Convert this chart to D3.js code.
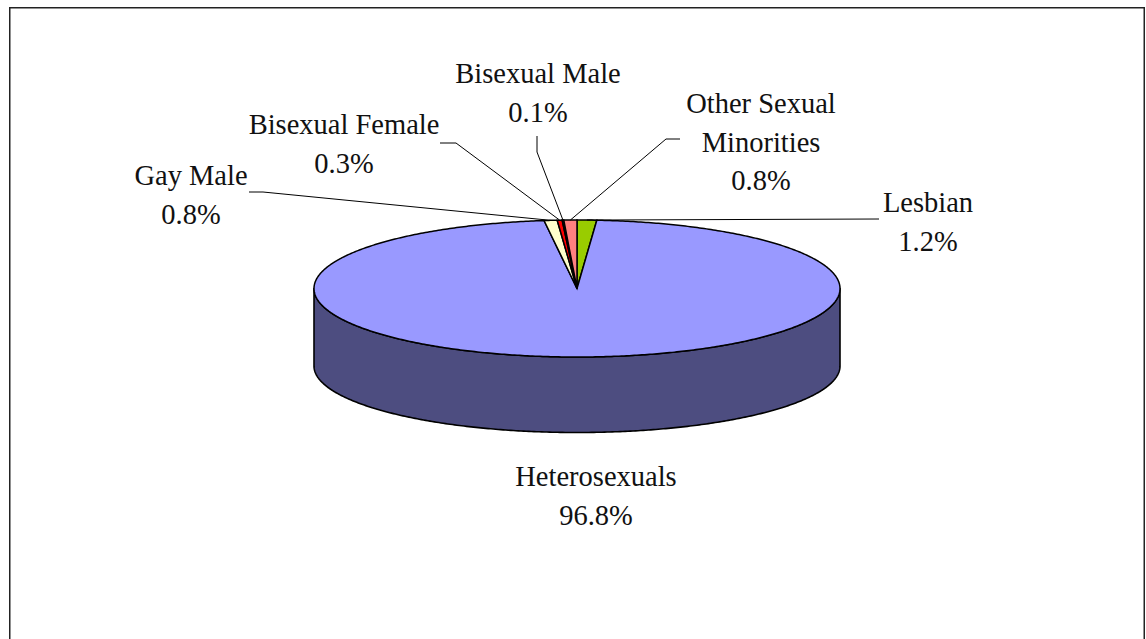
<!DOCTYPE html>
<html>
<head>
<meta charset="utf-8">
<script src="https://cdn.jsdelivr.net/npm/d3@7"></script>
<style>
  html, body { margin: 0; padding: 0; background: #fff; }
  svg { display: block; }
  text { font-family: "Liberation Serif", "Times New Roman", serif; fill: #111; }
</style>
</head>
<body>
<svg id="chart" width="1146" height="639"></svg>
<script>
// Survey composition by sexual orientation (percent of respondents)
const categories = ["Lesbian", "Heterosexuals", "Gay Male", "Bisexual Female", "Bisexual Male", "Other Sexual Minorities"];
const shares = [1.2, 96.8, 0.8, 0.3, 0.1, 0.8];
const sliceColors = ["#99CC00", "#9999FF", "#FFFFCC", "#FF0000", "#993366", "#FF8080"];
const labelLines = [["Lesbian"], ["Heterosexuals"], ["Gay Male"], ["Bisexual Female"], ["Bisexual Male"], ["Other Sexual", "Minorities"]];

// Label placement: text centre x, first baseline y, and the elbow of each leader line
const labelLayout = {
  "Lesbian":                 { x: 928, y: 212, leader: [[879, 219]] },
  "Heterosexuals":           { x: 596, y: 486, leader: null },
  "Gay Male":                { x: 191, y: 185, leader: [[249, 192], [263, 192]] },
  "Bisexual Female":         { x: 344, y: 134, leader: [[440, 143], [456, 143]] },
  "Bisexual Male":           { x: 538, y: 83,  leader: [[537, 136], [537, 152]] },
  "Other Sexual Minorities": { x: 761, y: 113, leader: [[680, 139], [666, 139]] }
};

const W = 1146, H = 639;
const svg = d3.select("#chart");

// chart area border
svg.append("rect")
  .attr("x", 9.75).attr("y", 7.75)
  .attr("width", 1134.5).attr("height", 660)
  .attr("fill", "#fff")
  .attr("stroke", "#222").attr("stroke-width", 1.5);

// pie geometry (tilted disc)
const cx = 577, cy = 288.5, rx = 263, ry = 68.5;
const cyB = 366, ryB = 66.5;   // lower rim of the disc

const topPt = (a) => [cx + rx * Math.sin(a), cy - ry * Math.cos(a)];
const botPt = (a) => [cx + rx * Math.sin(a), cyB - ryB * Math.cos(a)];

const data = categories.map((c, i) => ({ name: c, value: shares[i], color: sliceColors[i], lines: labelLines[i] }));
const arcs = d3.pie().value(d => d.value).sort(null).startAngle(0).endAngle(2 * Math.PI)(data);

const line = d3.line();
const shade = (c, k) => { const r = d3.rgb(c); return d3.rgb(r.r * k, r.g * k, r.b * k).formatHex(); };

const sampleArc = (fn, a0, a1) => {
  const n = Math.max(2, Math.ceil(Math.abs(a1 - a0) / 0.01));
  return d3.range(n + 1).map(i => fn(a0 + (a1 - a0) * i / n));
};

// front wall of the disc
const gSide = svg.append("g");
arcs.forEach(a => {
  const s = Math.max(a.startAngle, Math.PI / 2);
  const e = Math.min(a.endAngle, 3 * Math.PI / 2);
  if (e <= s) return;
  const pts = sampleArc(topPt, s, e).concat(sampleArc(botPt, e, s));
  gSide.append("path")
    .attr("d", line(pts) + "Z")
    .attr("fill", shade(a.data.color, 0.5))
    .attr("stroke", "#000").attr("stroke-width", 1.6).attr("stroke-linejoin", "round");
});

// top face slices
const gTop = svg.append("g");
arcs.forEach(a => {
  const pts = [[cx, cy]].concat(sampleArc(topPt, a.startAngle, a.endAngle));
  gTop.append("path")
    .attr("d", line(pts) + "Z")
    .attr("fill", a.data.color)
    .attr("stroke", "#000").attr("stroke-width", 1.5).attr("stroke-linejoin", "miter");
});

// leader lines and labels
const gLab = svg.append("g");
const lineGap = 38.5;
arcs.forEach(a => {
  const lay = labelLayout[a.data.name];
  if (lay.leader) {
    const mid = (a.startAngle + a.endAngle) / 2;
    const pts = lay.leader.concat([topPt(mid)]);
    gLab.append("path")
      .attr("d", line(pts))
      .attr("fill", "none").attr("stroke", "#000").attr("stroke-width", 1);
  }
  const rows = a.data.lines.concat([d3.format(".1f")(a.data.value) + "%"]);
  rows.forEach((t, i) => {
    gLab.append("text")
      .attr("x", lay.x).attr("y", lay.y + i * lineGap)
      .attr("text-anchor", "middle")
      .attr("font-size", 28.5)
      .text(t);
  });
});
</script>
</body>
</html>
